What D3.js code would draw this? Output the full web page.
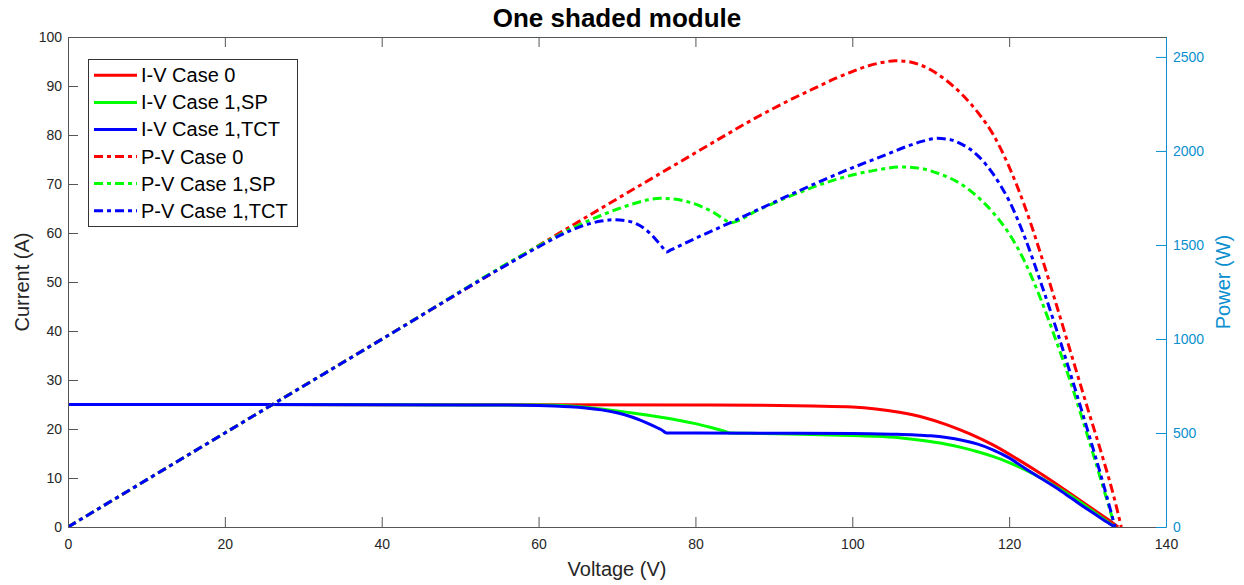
<!DOCTYPE html>
<html>
<head>
<meta charset="utf-8">
<script src="https://cdn.jsdelivr.net/npm/d3@7"></script>
<style>
  html, body { margin: 0; padding: 0; background: #fff; }
  svg { display: block; font-family: "Liberation Sans", Arial, Helvetica, sans-serif; }
</style>
</head>
<body>
<svg id="chart" width="1244" height="585"></svg>
<script>
// ---- I-V curves (current in A vs voltage in V) ----
const voltIV0 = [0, 20, 40, 60, 80, 88, 95, 100, 103, 106, 109, 112, 115, 118, 121, 124, 127, 130, 132, 133, 133.9];
const currIV0 = [25.0, 25.0, 24.95, 24.95, 24.9, 24.85, 24.7, 24.5, 24.1, 23.4, 22.4, 20.9, 19.0, 16.7, 13.9, 10.9, 7.7, 4.4, 2.2, 1.1, 0];

const voltIVSP = [0, 20, 40, 60, 62, 64, 66, 68, 70, 72, 74, 76, 78, 80, 82, 83.8, 84.4, 88, 92, 96, 100, 103, 106, 109, 112, 114, 116, 118, 120, 122, 124, 126, 128, 130, 132, 133.5];
const currIVSP = [25.0, 25.0, 24.95, 24.9, 24.85, 24.7, 24.45, 24.1, 23.7, 23.25, 22.8, 22.3, 21.75, 21.1, 20.3, 19.5, 19.2, 19.1, 19.0, 18.85, 18.65, 18.5, 18.2, 17.65, 16.9, 16.2, 15.35, 14.35, 13.15, 11.7, 10.05, 8.2, 6.2, 4.0, 1.7, 0];

const voltIVTCT = [0, 20, 40, 55, 60, 62, 64, 66, 68, 70, 72, 74, 75.2, 75.8, 76.3, 80, 90, 100, 105, 108, 110, 112, 114, 116, 118, 120, 122, 124, 126, 128, 130, 132, 133.5];
const currIVTCT = [25.0, 25.0, 24.95, 24.9, 24.8, 24.7, 24.55, 24.3, 23.9, 23.3, 22.4, 21.1, 20.2, 19.7, 19.2, 19.19, 19.15, 19.1, 18.95, 18.8, 18.6, 18.25, 17.7, 16.9, 15.7, 14.1, 12.0, 10.0, 8.0, 5.8, 3.6, 1.5, 0];

// ---- P-V curves (power in W vs voltage in V) ----
const voltPV0 = [0, 20, 40, 60, 70, 80, 84, 88, 92, 95, 98, 100, 102, 104, 105.5, 107, 108.5, 110, 112, 114, 116, 118, 120, 122, 124, 126, 128, 130, 132, 133.3, 134.3];
const powPV0 = [0, 500, 999, 1497, 1745, 1990, 2088, 2183, 2270, 2330, 2388, 2422, 2452, 2472, 2480, 2476, 2460, 2432, 2375, 2300, 2205, 2085, 1915, 1705, 1455, 1185, 908, 632, 360, 170, 0];

const voltPVSP = [0, 20, 40, 60, 62, 64, 66, 68, 70, 72, 74, 75.5, 77, 79, 81, 82.5, 83.8, 84.4, 88, 92, 96, 100, 103, 106.5, 109, 111, 113.7, 116, 118, 120, 122, 124, 126, 128, 130, 132, 133.5];
const powPVSP = [0, 500, 998, 1495, 1540, 1583, 1622, 1658, 1690, 1718, 1740, 1748, 1745, 1730, 1700, 1668, 1632, 1618, 1686, 1758, 1822, 1872, 1898, 1915, 1905, 1880, 1828, 1755, 1670, 1560, 1410, 1215, 990, 750, 485, 210, 0];

const voltPVTCT = [0, 20, 40, 55, 60, 62, 64, 66, 68, 69.5, 71, 72.5, 74, 75.2, 75.9, 76.3, 76.8, 80, 84.4, 88, 92, 96, 100, 104, 107, 109, 110.8, 112.5, 114, 115, 116, 117, 118, 119, 120, 122, 124, 126, 128, 130, 132, 133.5];
const powPVTCT = [0, 500, 998, 1372, 1490, 1535, 1575, 1607, 1627, 1634, 1630, 1612, 1570, 1517, 1482, 1462, 1472, 1535, 1618, 1688, 1765, 1840, 1910, 1975, 2025, 2052, 2067, 2060, 2035, 2010, 1975, 1930, 1875, 1810, 1735, 1540, 1305, 1055, 790, 515, 230, 0];

// ---- Axis ticks and labels ----
const voltTicks = [0, 20, 40, 60, 80, 100, 120, 140];
const currTicks = [0, 10, 20, 30, 40, 50, 60, 70, 80, 90, 100];
const powTicks = [0, 500, 1000, 1500, 2000, 2500];

const legendLabels = ["I-V Case 0", "I-V Case 1,SP", "I-V Case 1,TCT", "P-V Case 0", "P-V Case 1,SP", "P-V Case 1,TCT"];
const chartTitle = "One shaded module";
const xLabel = "Voltage (V)";
const yLeftLabel = "Current (A)";
const yRightLabel = "Power (W)";

// ---- Layout ----
const plot = { left: 68, right: 1166, top: 37, bottom: 527 };
const axisGray = "#262626";
const rightColor = "#0a8fcf";
const dashDot = "9,4,4,4";

const svg = d3.select("#chart");

const x = d3.scaleLinear().domain([0, 140]).range([plot.left, plot.right]);
const yI = d3.scaleLinear().domain([0, 100]).range([plot.bottom, plot.top]);
const yP = d3.scaleLinear().domain([0, 2606]).range([plot.bottom, plot.top]);

const zip = (vs, ys) => vs.map((v, i) => [v, ys[i]]);

const series = [
  { pts: zip(voltIV0, currIV0), y: yI, color: "#ff0000", dash: null },
  { pts: zip(voltIVSP, currIVSP), y: yI, color: "#00ff00", dash: null },
  { pts: zip(voltIVTCT, currIVTCT), y: yI, color: "#0000ff", dash: null },
  { pts: zip(voltPV0, powPV0), y: yP, color: "#ff0000", dash: dashDot },
  { pts: zip(voltPVSP, powPVSP), y: yP, color: "#00ff00", dash: dashDot },
  { pts: zip(voltPVTCT, powPVTCT), y: yP, color: "#0000ff", dash: dashDot }
];

svg.append("defs").append("clipPath").attr("id", "plotClip")
  .append("rect")
  .attr("x", plot.left).attr("y", plot.top)
  .attr("width", plot.right - plot.left).attr("height", plot.bottom - plot.top);

// Curves
const curves = svg.append("g").attr("clip-path", "url(#plotClip)");
series.forEach(s => {
  const line = d3.line()
    .x(d => x(d[0]))
    .y(d => s.y(d[1]))
    .curve(d3.curveMonotoneX);
  curves.append("path")
    .datum(s.pts)
    .attr("d", line)
    .attr("fill", "none")
    .attr("stroke", s.color)
    .attr("stroke-width", 3)
    .attr("stroke-dasharray", s.dash)
    .attr("stroke-linejoin", "round");
});

function styleAxis(g, color) {
  g.select(".domain").attr("stroke", color).attr("stroke-width", 1);
  g.selectAll(".tick line").attr("stroke", color).attr("stroke-width", 1);
  g.selectAll(".tick text")
    .attr("fill", color)
    .style("font-size", "14px")
    .style("font-family", "'Liberation Sans', Arial, Helvetica, sans-serif");
}

// Bottom axis
const gx = svg.append("g")
  .attr("transform", `translate(0,${plot.bottom})`)
  .call(d3.axisBottom(x).tickValues(voltTicks).tickSize(-10).tickSizeOuter(0).tickPadding(12));
styleAxis(gx, "#555");
gx.selectAll(".tick text").attr("fill", axisGray);

// Top border with mirrored ticks
const gxTop = svg.append("g")
  .attr("transform", `translate(0,${plot.top})`)
  .call(d3.axisTop(x).tickValues(voltTicks).tickSize(-10).tickSizeOuter(0).tickFormat(""));
styleAxis(gxTop, "#555");

// Left axis (current)
const gyL = svg.append("g")
  .attr("transform", `translate(${plot.left},0)`)
  .call(d3.axisLeft(yI).tickValues(currTicks).tickSize(-10).tickSizeOuter(0).tickPadding(6));
styleAxis(gyL, "#555");
gyL.selectAll(".tick text").attr("fill", axisGray);

// Right axis (power)
const gyR = svg.append("g")
  .attr("transform", `translate(${plot.right},0)`)
  .call(d3.axisRight(yP).tickValues(powTicks).tickFormat(d3.format("d"))
    .tickSize(-10).tickSizeOuter(0).tickPadding(7));
styleAxis(gyR, rightColor);

// Title and axis labels
svg.append("text")
  .attr("x", (plot.left + plot.right) / 2).attr("y", 27)
  .attr("text-anchor", "middle")
  .attr("fill", "#000")
  .style("font-size", "26px").style("font-weight", "bold")
  .text(chartTitle);

svg.append("text")
  .attr("x", (plot.left + plot.right) / 2).attr("y", 576)
  .attr("text-anchor", "middle")
  .attr("fill", axisGray)
  .style("font-size", "20px")
  .text(xLabel);

svg.append("text")
  .attr("transform", `translate(29,${(plot.top + plot.bottom) / 2}) rotate(-90)`)
  .attr("text-anchor", "middle")
  .attr("fill", axisGray)
  .style("font-size", "20px")
  .text(yLeftLabel);

svg.append("text")
  .attr("transform", `translate(1230,${(plot.top + plot.bottom) / 2}) rotate(-90)`)
  .attr("text-anchor", "middle")
  .attr("fill", rightColor)
  .style("font-size", "20px")
  .text(yRightLabel);

// Legend
const legend = svg.append("g");
legend.append("rect")
  .attr("x", 88.5).attr("y", 59.5)
  .attr("width", 209).attr("height", 167)
  .attr("fill", "#fff")
  .attr("stroke", "#333")
  .attr("stroke-width", 1);

const rowY = d3.scaleLinear().domain([0, 5]).range([75.3, 210.7]);
series.forEach((s, i) => {
  const cy = rowY(i);
  legend.append("line")
    .attr("x1", 94).attr("x2", 137)
    .attr("y1", cy).attr("y2", cy)
    .attr("stroke", s.color)
    .attr("stroke-width", 3)
    .attr("stroke-dasharray", s.dash);
  legend.append("text")
    .attr("x", 141).attr("y", cy + 7)
    .attr("fill", "#000")
    .style("font-size", "20px")
    .text(legendLabels[i]);
});
</script>
</body>
</html>
